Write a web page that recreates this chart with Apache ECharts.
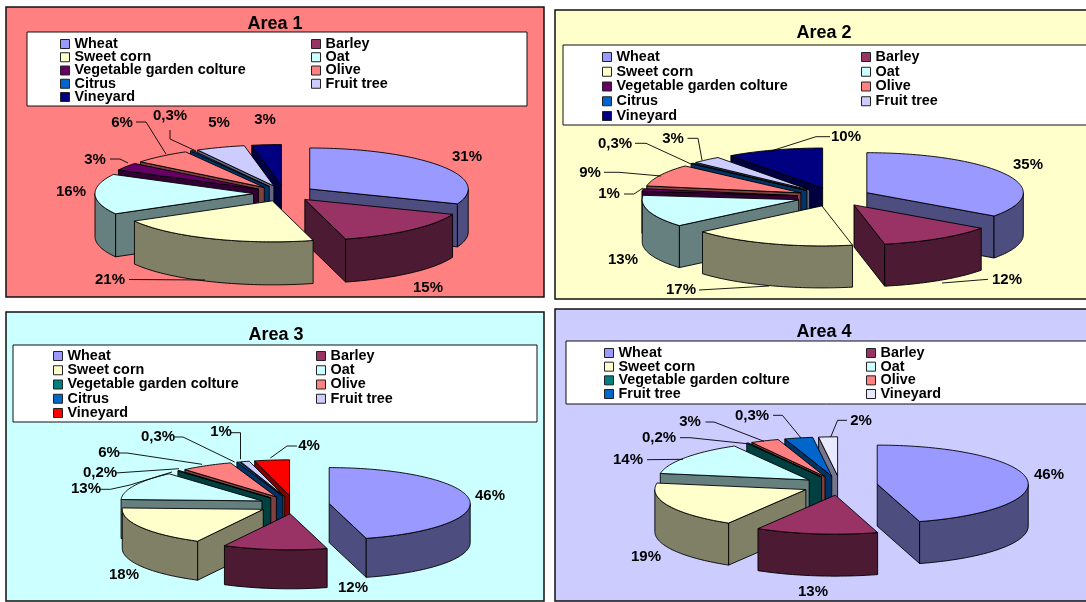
<!DOCTYPE html>
<html><head><meta charset="utf-8">
<style>html,body{margin:0;padding:0;background:#fff}#c{width:1086px;height:602px}</style>
<script src="https://cdn.jsdelivr.net/npm/echarts@6/dist/echarts.min.js"></script>
</head><body><div id="c"></div>
<script>
// ---- data ----
const categories = ['Wheat','Barley','Sweet corn','Oat','Vegetable garden colture','Olive','Citrus','Fruit tree','Vineyard'];
const area1Values = [31,15,21,16,3,6,0.3,5,3];
const area2Values = [35,12,17,13,1,9,0.3,3,10];
const area3Values = [46,12,18,13,0.2,6,0.3,1,4];
const area4Categories = ['Wheat','Barley','Sweet corn','Oat','Vegetable garden colture','Olive','Fruit tree','Vineyard'];
const area4Values = [45.2,13,19,14,0.2,3,3,2];
const area1Labels = ['31%','15%','21%','16%','3%','6%','0,3%','5%','3%'];
const area2Labels = ['35%','12%','17%','13%','1%','9%','0,3%','3%','10%'];
const area3Labels = ['46%','12%','18%','13%','0,2%','6%','0,3%','1%','4%'];
const area4Labels = ['46%','13%','19%','14%','0,2%','3%','0,3%','2%'];
const titles = ['Area 1','Area 2','Area 3','Area 4'];

// ---- styles / layout ----
const baseColors = {Wheat:'#9999FF',Barley:'#993366','Sweet corn':'#FFFFCC',Oat:'#CCFFFF','Vegetable garden colture':'#660066',Olive:'#FF8080',Citrus:'#0066CC','Fruit tree':'#CCCCFF',Vineyard:'#000080'};
const font = '"Liberation Sans", Arial, sans-serif';
const panels = [
 {frame:[6,7,538,290],bg:'#FF8080',title:[270,19],box:[27,32,500,74],cats:categories,values:area1Values,labels:area1Labels,
  cx:284.3,cy:193.5,rx:158.5,ry:41,e:30.8,h:43,legendX:[60,311],legendY:37,pitch:13.25,colors:{},
  pos:[[467,157],[428,288],[110,280],[71,192],[95,160],[122,123],[170,116],[219,123],[265,120]],
  lines:[null,null,[[129,279.5],[205,280]],null,[[110,159],[120,159],[128,163]],[[136,122],[146,122],[166,154]],[[170,130],[170,139],[196,151]],null,null]},
 {frame:[555,10,540,289],bg:'#FFFFCC',title:[819,28],box:[563,45,530,80],cats:categories,values:area2Values,labels:area2Labels,
  cx:834,cy:197,rx:156.5,ry:40,e:36.9,h:42,legendX:[602,861],legendY:50,pitch:14.75,colors:{},
  pos:[[1028,165],[1007,280],[681,290],[623,260],[609,194],[590,173],[615,144],[673,139],[846,137]],
  lines:[null,[[988,279.3],[942,283]],[[699,290],[769,286]],null,[[624,194],[634,194],[643,188]],[[604,172.3],[619,172.3],[661,176]],[[635,143.3],[646,143.3],[691,164]],[[687.5,138.3],[698,138.3],[702,160]],[[830,136.7],[816,136.7],[771,151]]]},
 {frame:[6,312,538,289],bg:'#CCFFFF',title:[271,330],box:[13,345,524,77],cats:categories,values:area3Values,labels:area3Labels,
  cx:294,cy:504.8,rx:141,ry:36,e:35.5,h:39,legendX:[53,316],legendY:349,pitch:14.25,
  colors:{'Vegetable garden colture':'#008080',Vineyard:'#FF0000'},
  pos:[[490,496],[353,588],[124,575],[86,489],[100,473],[109,453],[158,437],[221,432],[309,446]],
  lines:[null,null,null,[[100,489.3],[110.5,489.3],[130,485],[172,472]],[[115.4,473],[179,468.7]],[[118,453],[127,453],[202,464.3]],[[174,437],[183,437],[234.6,462]],[[231,432.7],[240.5,432.7],[240.5,459.3]],[[297,446],[287,446],[270.4,458]]]},
 {frame:[555,309,540,292],bg:'#CCCCFF',title:[819,327],box:[566,341,530,63],cats:area4Categories,values:area4Values,labels:area4Labels,
  cx:840,cy:485.5,rx:151,ry:39,e:37.6,h:42,legendX:[604,866],legendY:346,pitch:13.67,
  colors:{'Vegetable garden colture':'#008080','Fruit tree':'#0066CC',Vineyard:'#E8E8FF'},
  pos:[[1049,475],[813,592],[646,557],[628,460],[659,438],[690,422],[752,416],[861,421]],
  lines:[null,null,null,[[647,459.7],[683,459.3]],[[680,437.7],[690,437.7],[747,443.7]],[[705.5,422],[714,422],[764,441.3]],[[773,415.3],[782.4,415.3],[801,438]],[[847,420.3],[837.6,420.3],[830.7,437]]]}
];
function darken(hex){
  const n=parseInt(hex.slice(1),16);
  const f=v=>Math.round(v*0.5);
  return 'rgb('+f(n>>16&255)+','+f(n>>8&255)+','+f(n&255)+')';
}
function pt(p,ax,ay,a,r,dy){ return [ax+p.rx*r*Math.sin(a), ay-p.ry*r*Math.cos(a)+(dy||0)]; }
function sliceRenderer(p,top){
  const wall = top==='#E8E8FF' ? '#75758F' : darken(top);
  return function(params,api){
    const a=api.value(1)*2*Math.PI, b=api.value(2)*2*Math.PI, m=(a+b)/2;
    const ax=p.cx+p.e*Math.sin(m), ay=p.cy-p.e*(p.ry/p.rx)*Math.cos(m);
    const kids=[], line={stroke:'#000',lineWidth:0.9,lineJoin:'round'};
    const add=(pts,fill)=>kids.push({type:'polygon',shape:{points:pts},style:Object.assign({fill:fill},line)});
    const O=[ax,ay], Od=[ax,ay+p.h];
    if(Math.sin(a)<-1e-6){ const o=pt(p,ax,ay,a,1); add([O,o,[o[0],o[1]+p.h],Od],wall); }
    if(Math.sin(b)>1e-6){ const o=pt(p,ax,ay,b,1); add([O,o,[o[0],o[1]+p.h],Od],wall); }
    const f0=Math.max(a,Math.PI/2), f1=Math.min(b,Math.PI*1.5);
    if(f1>f0){
      const up=[],dn=[],n=Math.max(2,Math.ceil((f1-f0)*40));
      for(let i=0;i<=n;i++){const t=f0+(f1-f0)*i/n; up.push(pt(p,ax,ay,t,1)); dn.unshift(pt(p,ax,ay,t,1,p.h));}
      add(up.concat(dn),wall);
    }
    const rim=[O],n=Math.max(2,Math.ceil((b-a)*40));
    for(let i=0;i<=n;i++) rim.push(pt(p,ax,ay,a+(b-a)*i/n,1));
    add(rim,top);
    return {type:'group',children:kids};
  };
}
function labelRenderer(p){
  return function(params,api){
    const i=api.value(0), kids=[], q=p.pos[i], l=p.lines[i];
    if(l) kids.push({type:'polyline',shape:{points:l},style:{stroke:'#000',lineWidth:0.9,fill:null}});
    kids.push({type:'text',style:{text:p.labels[i],x:q[0],y:q[1],font:'bold 15px '+font,fill:'#000',align:'center',verticalAlign:'middle'}});
    return {type:'group',children:kids};
  };
}
const series=[],graphic=[],legends=[],titleOpts=[];
panels.forEach((p,k)=>{
  graphic.push({type:'rect',z:0,shape:{x:p.frame[0],y:p.frame[1],width:p.frame[2],height:p.frame[3]},style:{fill:p.bg,stroke:'#111',lineWidth:1.5}});
  graphic.push({type:'rect',z:1,shape:{x:p.box[0],y:p.box[1],width:p.box[2],height:p.box[3]},style:{fill:'#fff',stroke:'#111',lineWidth:1}});
  titleOpts.push({text:titles[k],left:p.title[0],top:p.title[1],textAlign:'center',textVerticalAlign:'middle',textStyle:{fontFamily:font,fontWeight:'bold',fontSize:18,color:'#000'}});
  const color=c=>p.colors[c]||baseColors[c];
  const total=p.values.reduce((s,v)=>s+v,0);
  let run=0;
  const slices=p.values.map((v,i)=>{const s=run/total;run+=v;return {i,v,s,t:run/total};});
  const order=slices.slice().sort((x,y)=>(-Math.cos((x.s+x.t)*Math.PI))-(-Math.cos((y.s+y.t)*Math.PI)));
  order.forEach(d=>{
    const c=p.cats[d.i];
    series.push({type:'custom',name:c,coordinateSystem:'none',silent:true,animation:false,clip:false,
      data:[[d.v,d.s,d.t]],encode:{},renderItem:sliceRenderer(p,color(c))});
  });
  series.push({type:'custom',name:titles[k]+' labels',coordinateSystem:'none',silent:true,animation:false,
    data:p.labels.map((_,i)=>[i]),renderItem:labelRenderer(p)});
  [0,1].forEach(col=>{
    legends.push({orient:'vertical',left:p.legendX[col],top:p.legendY,padding:0,selectedMode:false,
      itemWidth:9,itemHeight:9,itemGap:p.pitch-14,icon:'rect',
      textStyle:{fontFamily:font,fontWeight:'bold',fontSize:14.4,lineHeight:13,color:'#000'},
      data:p.cats.filter((c,i)=>i%2===col).map(c=>({name:c,icon:'rect',itemStyle:{color:color(c),borderColor:'#222',borderWidth:1}}))});
  });
});
const chart=echarts.init(document.getElementById('c'),null,{renderer:'canvas'});
chart.setOption({animation:false,backgroundColor:'#fff',title:titleOpts,legend:legends,graphic:{elements:graphic},series:series});
</script></body></html>
